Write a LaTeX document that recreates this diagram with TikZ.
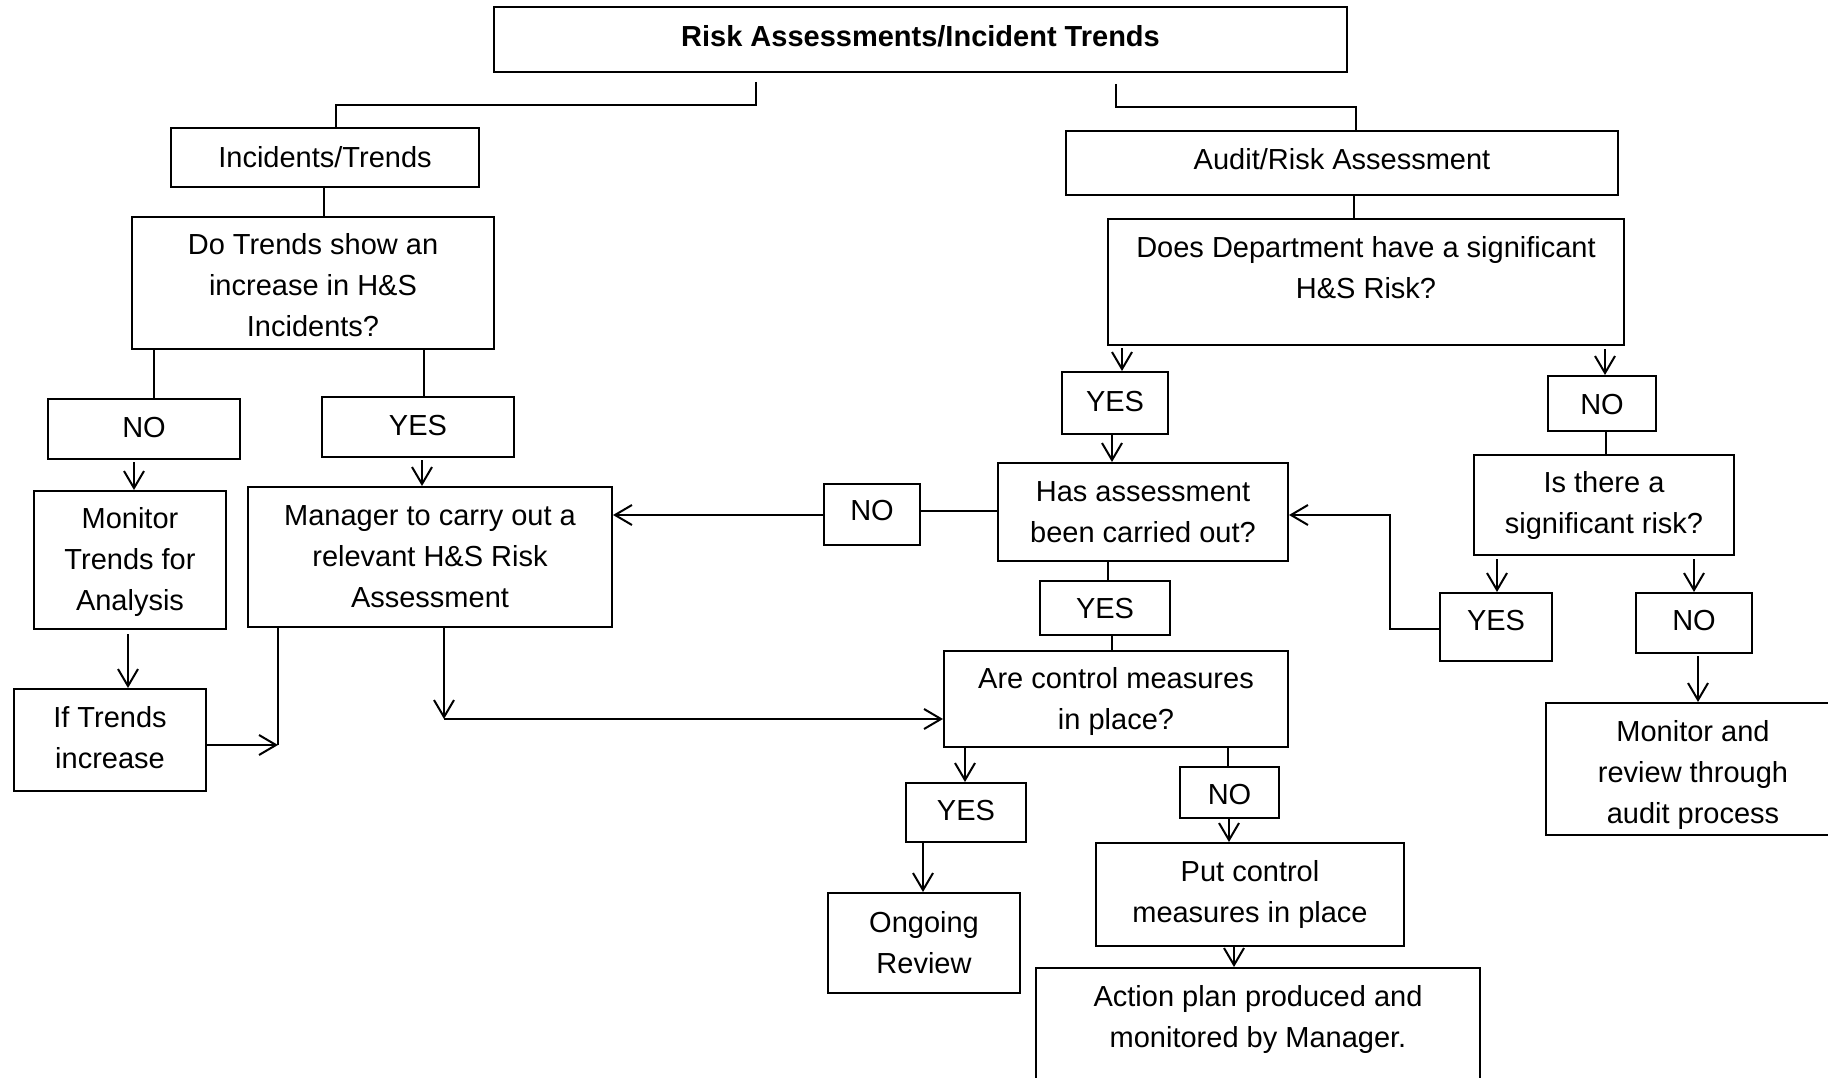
\documentclass[tikz,border=0pt]{standalone}
\usepackage{fontspec}
\setmainfont{Liberation Sans}
\usetikzlibrary{arrows.meta,calc}
\newcommand\mkbox[7]{\node[box, minimum width={#4-#2}, minimum height={#5-#3}] (#1) at ({(#2+#4)/2},{(#3+#5)/2}) {};
  \node[txt] (#1-t) at ($(#1.center)+(0,#6)$) {#7};}
\begin{document}
\begin{tikzpicture}[x=1pt,y=-1pt,
  font=\fontsize{29}{41}\selectfont,
  box/.style={draw, line width=2pt, inner sep=0pt},
  txt/.style={inner sep=0pt, align=center},
  conn/.style={line width=2pt},
  arr/.style={conn, -{Straight Barb[length=17pt,width=20pt]}}]
\useasboundingbox (0,0) rectangle (1828,1078);
\fill[white] (0,0) rectangle (1828,1078);
\clip (0,0) rectangle (1828,1078);
% boxes
\node[box, minimum width=853, minimum height=65] (title) at (920.5,39.5) {};
\node[txt, font=\fontsize{29}{41}\selectfont\bfseries] (titletxt) at (920.5,36) {Risk Assessments/Incident Trends};
\mkbox{inc}{171}{128}{479}{187}{0}{Incidents/Trends}
\mkbox{aud}{1066}{131}{1618}{195}{-3.5}{Audit/Risk Assessment}
\mkbox{dot}{132}{217}{494}{349}{2.3}{Do Trends show an\\increase in H\&S\\Incidents?}
\node[box, minimum width=516, minimum height=126] (does) at (1366,282) {};
\node[txt] (doestxt) at (1366,267.5) {Does Department have a significant\\H\&S Risk?};
\mkbox{nol}{48}{399}{240}{459}{-1}{NO}
\mkbox{yesl}{322}{397}{514}{457}{-1}{YES}
\mkbox{mon}{34}{491}{226}{629}{2.3}{Monitor\\Trends for\\Analysis}
\mkbox{man}{248}{487}{612}{627}{0}{Manager to carry out a\\relevant H\&S Risk\\Assessment}
\mkbox{iftr}{14}{689}{206}{791}{-2.3}{If Trends\\increase}
\mkbox{nom}{824}{484}{920}{545}{-3.5}{NO}
\mkbox{yesm}{1062}{372}{1168}{434}{-1}{YES}
\mkbox{noR}{1548}{376}{1656}{431}{1}{NO}
\mkbox{hasn}{998}{463}{1288}{561}{0}{Has assessment\\been carried out?}
\mkbox{isth}{1474}{455}{1734}{555}{0}{Is there a\\significant risk?}
\mkbox{yesm2}{1040}{581}{1170}{635}{1}{YES}
\mkbox{yesR}{1440}{593}{1552}{661}{-6}{YES}
\mkbox{noR2}{1636}{593}{1752}{653}{-2}{NO}
\mkbox{are}{944}{651}{1288}{747}{2.3}{Are control measures\\in place?}
\mkbox{yesB}{906}{783}{1026}{842}{-2.3}{YES}
\mkbox{noB}{1180}{767}{1279}{818}{2.3}{NO}
\mkbox{ong}{828}{893}{1020}{993}{0}{Ongoing\\Review}
\mkbox{put}{1096}{843}{1404}{946}{0}{Put control\\measures in place}
\mkbox{monR}{1546}{703}{1840}{835}{6}{Monitor and\\review through\\audit process}
\node[box, minimum width=444, minimum height=142] (act) at (1258,1039) {};
\node[txt] (acttxt) at (1258,1019.5) {Action plan produced and\\monitored by Manager.};
% junction coordinates
\coordinate (j1) at (278,745);
\coordinate (j2) at (444,719);
% connectors
\draw[conn, shorten <=9pt] (756,0 |- title.south) -- (756,105) -| (336,0 |- inc.north);
\draw[conn, shorten <=11pt] (1116,0 |- title.south) -- (1116,107) -| (1356,0 |- aud.north);
\draw[conn] (324,0 |- inc.south) -- (324,0 |- dot.north);
\draw[conn] (1354,0 |- aud.south) -- (1354,0 |- does.north);
\draw[conn] (154,0 |- dot.south) -- (154,0 |- nol.north);
\draw[conn] (424,0 |- dot.south) -- (424,0 |- yesl.north);
\draw[arr, shorten <=2pt] (134,0 |- nol.south) -- (134,0 |- mon.north);
\draw[arr, shorten <=2pt] (422,0 |- yesl.south) -- (422,0 |- man.north);
\draw[arr, shorten <=4pt] (128,0 |- mon.south) -- (128,0 |- iftr.north);
\draw[conn] (278,0 |- man.south) -- (j1);
\draw[arr] (iftr.east |- j1) -- (j1);
\draw[arr] (444,0 |- man.south) -- (j2);
\draw[arr] (j2) -- (are.west |- j2);
\draw[conn] (hasn.west |- 0,511) -- (nom.east |- 0,511);
\draw[arr] (nom.west |- 0,515) -- (man.east |- 0,515);
\draw[arr, shorten <=2pt] (1122,0 |- does.south) -- (1122,0 |- yesm.north);
\draw[arr, shorten <=3pt] (1605,0 |- does.south) -- (1605,0 |- noR.north);
\draw[arr] (1112,0 |- yesm.south) -- (1112,0 |- hasn.north);
\draw[conn] (1606,0 |- noR.south) -- (1606,0 |- isth.north);
\draw[arr, shorten <=3pt] (1497,0 |- isth.south) -- (1497,0 |- yesR.north);
\draw[arr, shorten <=3pt] (1694,0 |- isth.south) -- (1694,0 |- noR2.north);
\draw[arr] (yesR.west |- 0,629) -| (1390,515) -- (hasn.east |- 0,515);
\draw[conn] (1108,0 |- hasn.south) -- (1108,0 |- yesm2.north);
\draw[conn] (1112,0 |- yesm2.south) -- (1112,0 |- are.north);
\draw[arr] (965,0 |- are.south) -- (965,0 |- yesB.north);
\draw[conn] (1228,0 |- are.south) -- (1228,0 |- noB.north);
\draw[arr, shorten <=2pt] (1698,0 |- noR2.south) -- (1698,0 |- monR.north);
\draw[arr] (923,0 |- yesB.south) -- (923,0 |- ong.north);
\draw[arr] (1229,0 |- noB.south) -- (1229,0 |- put.north);
\draw[arr] (1234,0 |- put.south) -- (1234,0 |- act.north);
\end{tikzpicture}
\end{document}
